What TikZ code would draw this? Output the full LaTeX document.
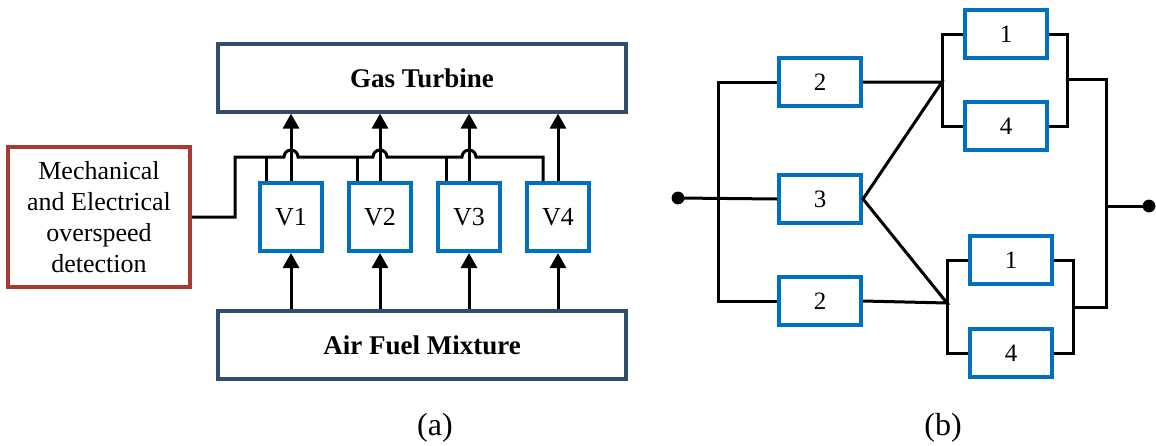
\documentclass[tikz,border=0pt]{standalone}
\usepackage{fontspec}
\setmainfont{Liberation Serif}
\usetikzlibrary{arrows.meta,calc}
\definecolor{slate}{HTML}{2F4E6F}
\definecolor{brick}{HTML}{A93A33}
\definecolor{vblue}{HTML}{0070C0}
\begin{document}
\begin{tikzpicture}[x=0.5pt,y=-0.5pt,
  font=\fontsize{13}{15.5}\selectfont,
  wire/.style={line width=1.5pt},
  arr/.style={line width=1.5pt,-{Triangle[width=8pt,length=7.5pt]}},
  bigbox/.style={draw=slate,line width=1.6pt,minimum width=204pt,minimum height=34pt,font=\fontsize{13.5}{16}\selectfont\bfseries},
  valve/.style={draw=vblue,line width=2pt,minimum width=31pt,minimum height=34pt},
  blk/.style={draw=vblue,line width=2pt,minimum width=41pt,minimum height=24pt,font=\fontsize{12.5}{15}\selectfont},
  sublabel/.style={font=\fontsize{16}{19}\selectfont}]
  \useasboundingbox (0,0) rectangle (1156,445);
  % (a)：燃气轮机与空气燃料混合
  \node[bigbox] (gas) at (422,78) {Gas Turbine};
  \node[bigbox] (air) at (422,345) {Air Fuel Mixture};
  \node[draw=brick,line width=2pt,minimum width=91pt,minimum height=70pt,align=center] (detect) at (99,217) {Mechanical\\and Electrical\\overspeed\\detection};
  % 阀门 V1--V4 及箭头
  \foreach \i/\x in {1/291,2/380,3/469,4/558} {
    \node[valve] (V\i) at (\x,217) {V\i};
    \draw[arr] (air.north -| V\i) -- (V\i.south);
    \draw[arr] (V\i.north) -- (gas.south -| V\i);
  }
  % 控制线：跨过箭头
  \coordinate (busL) at (235,157);
  \coordinate (d4) at (543,157);
  \draw[wire] (detect.east) -| (busL) -- (284,157) arc (180:360:7)
    -- (373,157) arc (180:360:7) -- (462,157) arc (180:360:7) -- (d4) -- (d4 |- V4.north);
  \foreach \v/\x in {V1/266,V2/357,V3/446} {
    \coordinate (d) at (\x,157);
    \draw[wire] (d) -- (d |- \v.north);
  }
  \node[sublabel] (la) at (435,428) {(a)};
  % (b)：可靠性框图
  \node[blk] (B2a) at (820,82) {2};
  \node[blk] (B3) at (820,199) {3};
  \node[blk] (B2b) at (820,301) {2};
  \node[blk] (T1) at (1006,34) {1};
  \node[blk] (T4) at (1006,126) {4};
  \node[blk] (U1) at (1011,260) {1};
  \node[blk] (U4) at (1011,353) {4};
  \coordinate (in) at (678,198);
  \coordinate (jt) at (942,82);
  \coordinate (jb) at (947,303);
  \coordinate (rt) at (1067,79);
  \coordinate (rb) at (1073,307);
  \coordinate (ot) at (1106,79);
  \coordinate (ob) at (1106,307);
  \coordinate (out) at (1149,206);
  % 输入端
  \fill (in) circle (3.2pt);
  \draw[wire] (in) -- (B3.west);
  \draw[wire] (B2a.west) -- ++(-59,0) |- (B2b.west);
  % 中间连接
  \draw[wire] (B2a.east) -- (jt) -- (B3.east) -- (jb) -- (B2b.east);
  \draw[wire] (T1.west) -| (jt) |- (T4.west);
  \draw[wire] (U1.west) -| (jb) |- (U4.west);
  % 输出端
  \draw[wire] (T1.east) -| (rt) |- (T4.east);
  \draw[wire] (U1.east) -| (rb) |- (U4.east);
  \draw[wire] (rt) -- (ot) -- (ob) -- (rb);
  \draw[wire] (out) -- (out -| ot);
  \fill (out) circle (3.2pt);
  \node[sublabel] (lb) at (943,428) {(b)};
\end{tikzpicture}
\end{document}
